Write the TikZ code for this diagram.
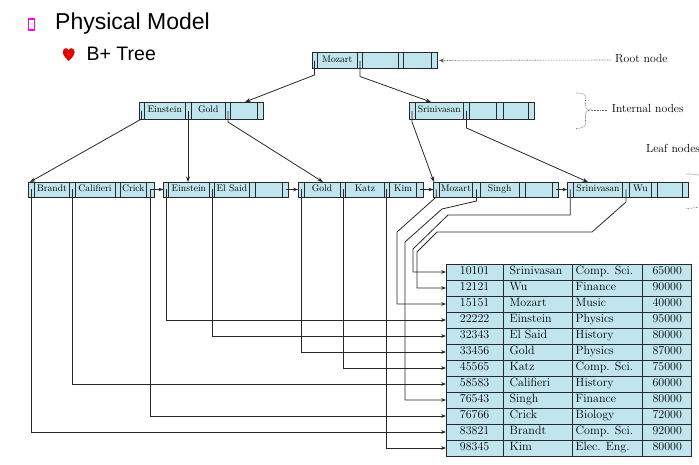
\documentclass[tikz,border=0pt]{standalone}
\usepackage{fontspec}
\newfontfamily\arialfont{Liberation Sans}
\usetikzlibrary{arrows.meta}
\definecolor{nodefill}{RGB}{192,229,239}
\definecolor{linegray}{RGB}{40,40,40}
\definecolor{dotgray}{RGB}{90,90,90}
\definecolor{bulletmag}{RGB}{255,0,255}
\definecolor{heartred}{RGB}{230,0,0}
\newcommand{\cellrow}[5]{%
  \draw[cellline, fill=nodefill] (#3,#1) rectangle (#4,#2);
  \foreach \xa in {#5} \draw[cellline] (\xa,#1) -- (\xa,#2);
}
\begin{document}
\begin{tikzpicture}[x=1pt,y=-1pt,
  cellline/.style={draw=linegray, line width=0.7pt},
  conn/.style={draw=linegray, line width=0.8pt},
  tip/.style={-{Stealth[length=5.5pt,width=4pt]}},
  smalltip/.style={-{Stealth[length=4.8pt,width=3.6pt]}},
  key/.style={font=\fontsize{9.6}{10}\selectfont, inner sep=0pt, text height=6.5pt, text depth=1.8pt},
  tcell/.style={font=\fontsize{12}{13}\selectfont, inner sep=0pt, text height=7.8pt, text depth=2.2pt},
  lbl/.style={font=\fontsize{11.7}{13}\selectfont, inner sep=0pt, anchor=west, text height=7.8pt, text depth=2.2pt},
  dotline/.style={draw=dotgray, line width=0.6pt, dash pattern=on 0.7pt off 0.9pt}
]
\useasboundingbox (0,0) rectangle (699,465);
\clip (0,0) rectangle (699,465);

% ---------- title ----------
\draw[bulletmag, line width=1.1pt] (28.3,19) rectangle (34.3,30);
\node[anchor=base west, inner sep=0pt, font=\arialfont\fontsize{23}{26}\selectfont] (title) at (55,29.5) {Physical Model};
\fill[heartred] (68.7,61) .. controls (64.5,57) and (62.6,54.2) .. (62.8,51.8)
  .. controls (63,49.3) and (64.6,48.2) .. (66,48.2)
  .. controls (67.4,48.2) and (68.4,49.2) .. (68.7,50.6)
  .. controls (69,49.2) and (70,48.2) .. (71.4,48.2)
  .. controls (72.8,48.2) and (74.4,49.3) .. (74.6,51.8)
  .. controls (74.8,54.2) and (72.9,57) .. (68.7,61) -- cycle;
\node[anchor=base west, inner sep=0pt, font=\arialfont\fontsize{19.5}{22}\selectfont] (sub) at (86.5,61) {B+ Tree};

% ---------- root ----------
\cellrow{52}{68}{312}{437}{317,357.5,362.5,398,403.5,431}
\node[key] (kmozartroot) at (337.3,60) {Mozart};
\coordinate (rp1) at (314.5,61);
\coordinate (rp2) at (360,61);
\coordinate (rootR) at (439,60.5);

% ---------- internal ----------
\cellrow{102}{119}{139}{263.5}{144,185.5,191,225.5,230.5,257.5}
\node[key] (keinint) at (164.8,110.5) {Einstein};
\node[key] (kgoldint) at (208.3,110.5) {Gold};
\cellrow{102}{119}{409}{534.5}{415,463.5,469.5,496.5,503,528.5}
\node[key] (ksriint) at (439.3,110.5) {Srinivasan};
\coordinate (i1p1) at (141.5,111);
\coordinate (i1p2) at (188,111);
\coordinate (i1p3) at (228,111);
\coordinate (i2p1) at (412,111);
\coordinate (i2p2) at (466.5,111);
\coordinate (i1top) at (245,102);
\coordinate (i2top) at (431,102);

% ---------- leaves ----------
\cellrow{182}{197}{28.3}{154}{34.5,69.5,75,115,120,146.7}
\cellrow{182}{197}{163.3}{288.7}{168.5,209.3,214.5,249.3,255,282.7}
\cellrow{182}{197}{298}{423.3}{304,340,345.5,384.2,389.5,416.7}
\cellrow{182}{197}{433.3}{558.3}{439,472.7,480,519.3,525,552.7}
\cellrow{182}{197}{567.3}{688.3}{573.3,622.7,629,651.7,657.7,682.7}
\node[key] (kbrandt) at (52,189.5) {Brandt};
\node[key] (kcalifieri) at (95,189.5) {Califieri};
\node[key] (kcrick) at (133.3,189.5) {Crick};
\node[key] (keinstein) at (188.9,189.5) {Einstein};
\node[key] (kelsaid) at (231.9,189.5) {El Said};
\node[key] (kgold) at (322,189.5) {Gold};
\node[key] (kkatz) at (364.9,189.5) {Katz};
\node[key] (kkim) at (403.1,189.5) {Kim};
\node[key] (kmozart) at (455.9,189.5) {Mozart};
\node[key] (ksingh) at (499.7,189.5) {Singh};
\node[key] (ksrinivasan) at (598,189.5) {Srinivasan};
\node[key] (kwu) at (640.4,189.5) {Wu};

\coordinate (l1top) at (30,182);
\coordinate (l2top) at (188,182);
\coordinate (l3top) at (323,182);
\coordinate (l4top) at (434,182);
\coordinate (l5top) at (588,182);
\coordinate (l1p1) at (31.5,189.5);
\coordinate (l1p2) at (72.5,189.5);
\coordinate (l1p4) at (150.5,189.5);
\coordinate (l2p1) at (166,189.5);
\coordinate (l2p2) at (212,189.5);
\coordinate (l2p4) at (285.7,189.5);
\coordinate (l3p1) at (301,189.5);
\coordinate (l3p2) at (343,189.5);
\coordinate (l3p3) at (386.8,189.5);
\coordinate (l3p4) at (420,189.5);
\coordinate (l4p1) at (436.2,189.5);
\coordinate (l4p2) at (476.5,189.5);
\coordinate (l4p4) at (555.5,189.5);
\coordinate (l5p1) at (570.3,189.5);
\coordinate (l5p2) at (626,189.5);
\coordinate (l2w) at (163.3,189.5);
\coordinate (l3w) at (298,189.5);
\coordinate (l4w) at (433.3,189.5);
\coordinate (l5w) at (567.3,189.5);

% ---------- tree connectors ----------
\draw[conn,tip] (rp1) -- (314.5,75) -- (i1top);
\draw[conn,tip] (rp2) -- (360,76.5) -- (i2top);
\draw[conn,tip] (i1p1) -- (141.5,119) -- (l1top);
\draw[conn,tip] (i1p2) -- (l2top);
\draw[conn,tip] (i1p3) -- (228,122) -- (l3top);
\draw[conn,tip] (i2p1) -- (412,122) -- (l4top);
\draw[conn,tip] (i2p2) -- (466.5,128) -- (l5top);
\draw[conn,smalltip] (l1p4) -- (l2w);
\draw[conn,smalltip] (l2p4) -- (l3w);
\draw[conn,smalltip] (l3p4) -- (l4w);
\draw[conn,smalltip] (l4p4) -- (l5w);

% ---------- table ----------
\draw[cellline, fill=nodefill] (446,264) rectangle (691.7,456);
\foreach \k in {1,...,11} \draw[cellline] (446,264+16*\k) -- (691.7,264+16*\k);
\foreach \xa in {503.3,572.7,642.7} \draw[cellline] (\xa,264) -- (\xa,456);
\foreach \id/\nm/\dept/\sal [count=\r] in {
  10101/Srinivasan/Comp. Sci./65000,
  12121/Wu/Finance/90000,
  15151/Mozart/Music/40000,
  22222/Einstein/Physics/95000,
  32343/El Said/History/80000,
  33456/Gold/Physics/87000,
  45565/Katz/Comp. Sci./75000,
  58583/Califieri/History/60000,
  76543/Singh/Finance/80000,
  76766/Crick/Biology/72000,
  83821/Brandt/Comp. Sci./92000,
  98345/Kim/Elec. Eng./80000}{
  \node[tcell] (tid\r) at (474.6,256+16*\r) {\id};
  \node[tcell, anchor=west] (tnm\r) at (509.5,256+16*\r) {\nm};
  \node[tcell, anchor=west] (tdp\r) at (575.5,256+16*\r) {\dept};
  \node[tcell] (tsl\r) at (667.2,256+16*\r) {\sal};
  \coordinate (tin\r) at (446,256+16*\r);
}

% ---------- leaf-to-record connectors ----------
\draw[conn,smalltip] (l5p1) -- (570.3,215) -- (448,215) -- (413,249) |- (tin1);
\draw[conn,smalltip] (l5p2) -- (626,202) -- (592,232) -- (437,232) -- (417,252) |- (tin2);
\draw[conn,smalltip] (l4p1) -- (436.2,197) -- (397,232) |- (tin3);
\draw[conn,smalltip] (l2p1) |- (tin4);
\draw[conn,smalltip] (l2p2) |- (tin5);
\draw[conn,smalltip] (l3p1) |- (tin6);
\draw[conn,smalltip] (l3p2) |- (tin7);
\draw[conn,smalltip] (l1p2) |- (tin8);
\draw[conn,smalltip] (l4p2) -- (476.5,201) -- (442,209) -- (405,242) |- (tin9);
\draw[conn,smalltip] (l1p4) |- (tin10);
\draw[conn,smalltip] (l1p1) |- (tin11);
\draw[conn,smalltip] (l3p3) |- (tin12);

% ---------- annotations ----------
\node[lbl] (rootlbl) at (615,60) {Root node};
\draw[dotline, -{Stealth[length=5pt,width=4pt]}] ([xshift=-4pt]rootlbl.west) -- (rootR);
\node[lbl] (intlbl) at (611.7,110) {Internal nodes};
\draw[dotline] (576,93) .. controls (583,93) and (585.5,94) .. (585.5,98) -- (585.5,105)
  .. controls (585.5,108.5) and (587.5,110) .. (592,110)
  .. controls (587.5,110) and (585.5,111.5) .. (585.5,115) -- (585.5,123)
  .. controls (585.5,127) and (583,128) .. (576,128.5);
\draw[dotline] (592,110) -- ([xshift=-4pt]intlbl.west);
\node[lbl] (leaflbl) at (646,150) {Leaf nodes};
\draw[dotline] (686,174) .. controls (696,174) and (703,175) .. (703,179) -- (703,187)
  .. controls (703,190) and (705,191) .. (709,191)
  .. controls (705,191) and (703,192) .. (703,195) -- (703,203)
  .. controls (703,207) and (696,208) .. (686,208.5);
\end{tikzpicture}
\end{document}
